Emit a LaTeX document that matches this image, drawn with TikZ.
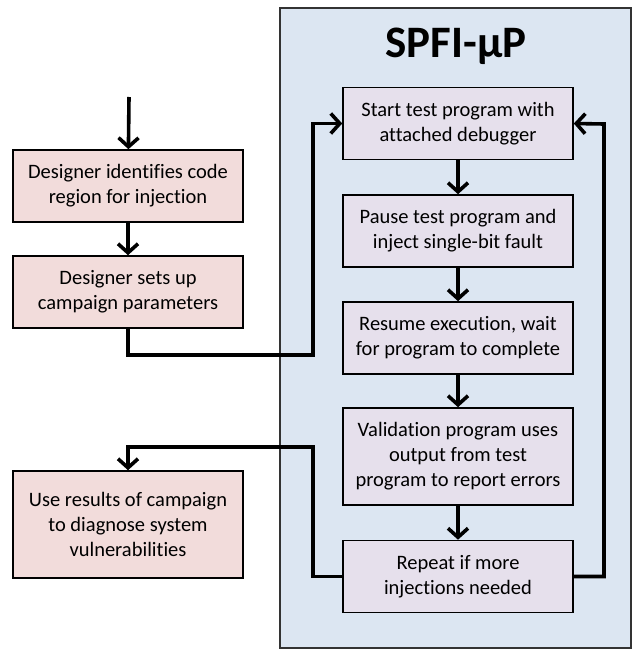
\documentclass[tikz,border=0pt]{standalone}
\usepackage{fontspec}
\setmainfont{Carlito}[Ligatures=NoCommon]
\usetikzlibrary{arrows.meta, positioning}
\definecolor{pinkfill}{HTML}{F2DCDB}
\definecolor{lavfill}{HTML}{E6E0EC}
\definecolor{bluefill}{HTML}{DCE6F2}

\tikzset{
    userbox/.style={draw=black, fill=pinkfill, line width=1.6pt, minimum width=230pt,
        minimum height=72pt, inner sep=0pt, align=center,
        font=\fontsize{20.5}{25}\selectfont},
    toolbox/.style={userbox, fill=lavfill},
    flow/.style={line width=3.6pt, -{Straight Barb[length=9pt, width=20pt]}}
}

\begin{document}
\begin{tikzpicture}[x=1pt, y=-1pt]
    \useasboundingbox (0,0) rectangle (637,650);
    % SPFI frame
    \node[draw=black!80, fill=bluefill, line width=1.6pt, minimum width=351pt,
        minimum height=640pt, inner sep=0pt] (spfi) at (455.5,328) {};
    \node[font=\bfseries\fontsize{45}{50}\selectfont] (title) at (456,46) {SPFI-µP};

    % designer side
    \node[userbox] (ident) at (128,186) {Designer identifies code\\region for injection};
    \node[userbox] (setup) at (128,292) {Designer sets up\\campaign parameters};
    \node[userbox, minimum height=107pt] (results) at (128,524.5)
        {Use results of campaign\\to diagnose system\\vulnerabilities};

    % tool side
    \node[toolbox] (start) at (458,123.5) {Start test program with\\attached debugger};
    \node[toolbox] (pause) at (458,231) {Pause test program and\\inject single-bit fault};
    \node[toolbox] (resume) at (458,338) {Resume execution, wait\\for program to complete};
    \node[toolbox, minimum height=97pt] (valid) at (458,456.5)
        {Validation program uses\\output from test\\program to report errors};
    \node[toolbox] (repeat) at (458,576.5) {Repeat if more\\injections needed};

    \coordinate (entry) at (129,97);
    \coordinate (intoloop) at (313,355);
    \coordinate (back) at (604,124);
    \coordinate (outloop) at (313,447);

    \draw[flow] (entry) -- (ident);
    \draw[flow] (ident) -- (setup);
    \draw[flow] (setup.south) |- (intoloop) |- (start.west);
    \draw[flow] (start) -- (pause);
    \draw[flow] (pause) -- (resume);
    \draw[flow] (resume) -- (valid);
    \draw[flow] (valid) -- (repeat);
    \draw[flow] (repeat.east) -| (back) -- (start.east);
    \draw[flow] (repeat.west) -| (outloop) -| (results.north);
\end{tikzpicture}
\end{document}
